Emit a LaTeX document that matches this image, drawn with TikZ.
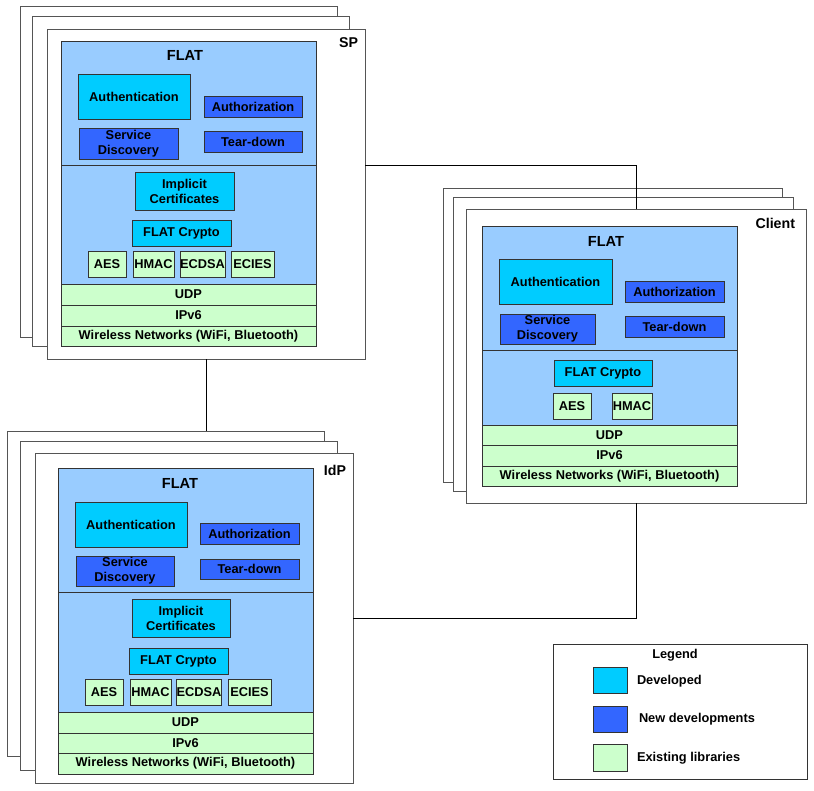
\documentclass[tikz,border=0pt]{standalone}
\usepackage{fontspec}
\setmainfont{Liberation Sans}
\definecolor{devc}{HTML}{00CCFF}
\definecolor{newc}{HTML}{3366FF}
\definecolor{exc}{HTML}{CCFFCC}
\definecolor{areac}{HTML}{99CCFF}
\definecolor{edgec}{HTML}{333333}
\definecolor{framec}{HTML}{555555}
\newcommand{\bx}[7]{\node[#2, minimum width={(#5)-(#3)}, minimum height={(#6)-(#4)}] (#1) at ({((#3)+(#5))/2},{((#4)+(#6))/2}) {#7};}
\tikzset{
  every node/.style={inner sep=0pt, outer sep=0pt, align=center, font=\fontsize{12.8}{15}\selectfont\bfseries},
  grp/.style={draw=framec, fill=white, line width=0.9pt},
  area/.style={draw=edgec, fill=areac, line width=0.8pt},
  dev/.style={draw=edgec, fill=devc, line width=0.8pt},
  newd/.style={draw=edgec, fill=newc, line width=0.8pt},
  exist/.style={draw=edgec, fill=exc, line width=0.8pt},
  ttl/.style={font=\fontsize{14.6}{16}\selectfont\bfseries},
  lbl/.style={font=\fontsize{14.2}{16}\selectfont\bfseries, anchor=east},
  conn/.style={draw=black, line width=0.8pt},
}
\begin{document}
\begin{tikzpicture}[x=1pt,y=-1pt]
\useasboundingbox (0,0) rectangle (814,790);
% ---------- SP ----------
\bx{spB1}{grp}{20}{6}{337}{337}{}
\bx{spB2}{grp}{32}{16}{349}{346}{}
\bx{spF}{grp}{47}{29}{365}{359}{}
\node[lbl] (spL) at (358,43) {SP};
\bx{spUp}{area}{61}{41}{316}{165}{}
\node[ttl] (spT) at (185,55) {FLAT};
\bx{spAuth}{dev}{78}{74}{190}{119}{Authentication}
\bx{spAuthz}{newd}{204}{96}{302}{117}{Authorization}
\bx{spSD}{newd}{79}{128}{178}{159}{Service\\Discovery}
\bx{spTD}{newd}{204}{131}{302}{152}{Tear-down}
\bx{spLo}{area}{61}{165}{316}{284}{}
\bx{spIC}{dev}{135}{172}{234}{210}{Implicit\\Certificates}
\bx{spFC}{dev}{132}{220}{231}{246}{FLAT Crypto}
\bx{spAES}{exist}{88}{251}{126}{277}{AES}
\bx{spHMAC}{exist}{133}{251}{174}{277}{HMAC}
\bx{spECDSA}{exist}{180}{251}{225}{277}{ECDSA}
\bx{spECIES}{exist}{231}{251}{274}{277}{ECIES}
\bx{spUDP}{exist}{61}{284}{316}{305}{UDP}
\bx{spIP}{exist}{61}{305}{316}{326}{IPv6}
\bx{spWN}{exist}{61}{326}{316}{346}{Wireless Networks (WiFi, Bluetooth)}
% ---------- Client ----------
\bx{clB1}{grp}{443}{188}{782}{482}{}
\bx{clB2}{grp}{453}{197}{793}{491}{}
\coordinate (j1) at (636,165);
\bx{clF}{grp}{466}{209}{806}{503}{}
\draw[conn] (spF.east |- j1) -- (j1) -- (j1 |- clF.north);
\node[lbl] (clL) at (795,223) {Client};
\bx{clUp}{area}{482}{226}{737}{350}{}
\node[ttl] (clT) at (606,241) {FLAT};
\bx{clAuth}{dev}{499}{259}{612}{304}{Authentication}
\bx{clAuthz}{newd}{625}{281}{724}{302}{Authorization}
\bx{clSD}{newd}{500}{314}{595}{344}{Service\\Discovery}
\bx{clTD}{newd}{625}{316}{724}{337}{Tear-down}
\bx{clLo}{area}{482}{350}{737}{425}{}
\bx{clFC}{dev}{554}{360}{652}{386}{FLAT Crypto}
\bx{clAES}{exist}{553}{393}{591}{419}{AES}
\bx{clHMAC}{exist}{612}{393}{652}{419}{HMAC}
\bx{clUDP}{exist}{482}{425}{737}{445}{UDP}
\bx{clIP}{exist}{482}{445}{737}{466}{IPv6}
\bx{clWN}{exist}{482}{466}{737}{486}{Wireless Networks (WiFi, Bluetooth)}
% ---------- IdP ----------
\coordinate (j2) at (206,400);
\bx{idB1}{grp}{7}{431}{324}{756}{}
\draw[conn] (spF.south -| j2) -- (j2 |- idB1.north);
\bx{idB2}{grp}{20}{441}{337}{770}{}
\bx{idF}{grp}{35}{453}{353}{783}{}
\node[lbl] (idL) at (346,470) {IdP};
\bx{idUp}{area}{58}{468}{313}{592}{}
\node[ttl] (idT) at (180,483) {FLAT};
\bx{idAuth}{dev}{75}{502}{187}{547}{Authentication}
\bx{idAuthz}{newd}{200}{523}{299}{544}{Authorization}
\bx{idSD}{newd}{76}{556}{174}{586}{Service\\Discovery}
\bx{idTD}{newd}{200}{559}{299}{579}{Tear-down}
\bx{idLo}{area}{58}{592}{313}{712}{}
\bx{idIC}{dev}{132}{599}{230}{637}{Implicit\\Certificates}
\bx{idFC}{dev}{129}{648}{228}{674}{FLAT Crypto}
\bx{idAES}{exist}{85}{679}{123}{705}{AES}
\bx{idHMAC}{exist}{130}{679}{171}{705}{HMAC}
\bx{idECDSA}{exist}{177}{679}{221}{705}{ECDSA}
\bx{idECIES}{exist}{228}{679}{271}{705}{ECIES}
\bx{idUDP}{exist}{58}{712}{313}{733}{UDP}
\bx{idIP}{exist}{58}{733}{313}{753}{IPv6}
\bx{idWN}{exist}{58}{753}{313}{774}{Wireless Networks (WiFi, Bluetooth)}
% ---------- Client to IdP ----------
\coordinate (j3) at (636,618);
\draw[conn] (clF.south -| j3) -- (j3) -- (idF.east |- j3);
% ---------- Legend ----------
\bx{lgF}{draw=edgec, line width=0.8pt}{553}{644}{807}{779}{}
\node (lgT) at (675,655) {Legend};
\bx{lgS1}{dev}{593}{667}{627}{693}{}
\bx{lgS2}{newd}{593}{706}{627}{732}{}
\bx{lgS3}{exist}{593}{744}{627}{771}{}
\node[anchor=west] (lgL1) at (637,681) {Developed};
\node[anchor=west] (lgL2) at (639,719) {New developments};
\node[anchor=west] (lgL3) at (637,758) {Existing libraries};
\end{tikzpicture}
\end{document}
